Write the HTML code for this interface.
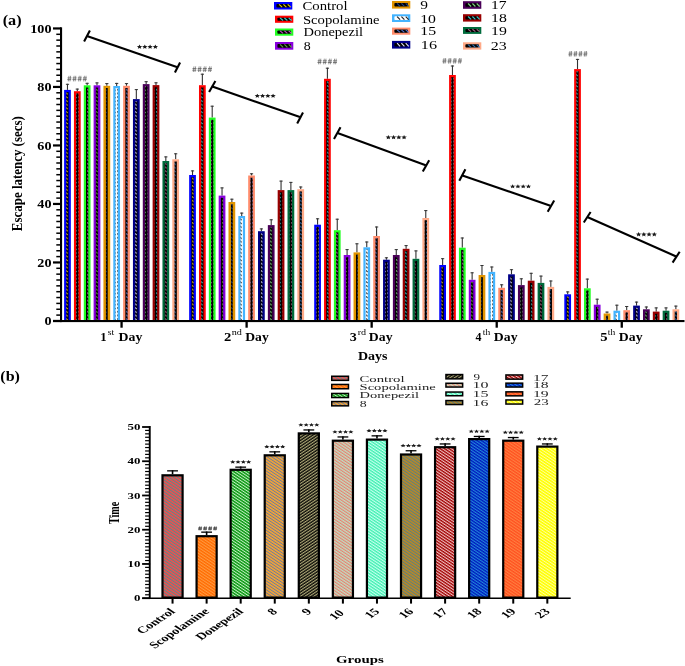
<!DOCTYPE html>
<html><head><meta charset="utf-8"><style>
html,body{margin:0;padding:0;background:#fff;}
svg{display:block;will-change:transform;}
</style></head><body>
<svg width="685" height="666" viewBox="0 0 685 666" font-family='"Liberation Serif", serif'>
<defs>
<pattern id="pl0" width="3.4" height="3.4" patternUnits="userSpaceOnUse" patternTransform="rotate(-40)"><rect width="3.4" height="3.4" fill="#000000"/><rect y="0.3" width="1.2" height="2.2" fill="#e8d000"/></pattern>
<pattern id="pa0" width="3" height="3.7" patternUnits="userSpaceOnUse"><rect width="3" height="3.7" fill="#000000"/><path d="M0.2,0.4 L1.6,2.0" stroke="#e8d000" stroke-width="1.1"/></pattern>
<pattern id="pl1" width="3.4" height="3.4" patternUnits="userSpaceOnUse" patternTransform="rotate(-40)"><rect width="3.4" height="3.4" fill="#000000"/><rect y="0.3" width="1.2" height="2.2" fill="#30c8c8"/></pattern>
<pattern id="pa1" width="3" height="3.7" patternUnits="userSpaceOnUse"><rect width="3" height="3.7" fill="#000000"/><path d="M0.2,0.4 L1.6,2.0" stroke="#30c8c8" stroke-width="1.1"/></pattern>
<pattern id="pl2" width="3.4" height="3.4" patternUnits="userSpaceOnUse" patternTransform="rotate(-40)"><rect width="3.4" height="3.4" fill="#000000"/><rect y="0.3" width="1.2" height="2.2" fill="#c050c0"/></pattern>
<pattern id="pa2" width="3" height="3.7" patternUnits="userSpaceOnUse"><rect width="3" height="3.7" fill="#000000"/><path d="M0.2,0.4 L1.6,2.0" stroke="#c050c0" stroke-width="1.1"/></pattern>
<pattern id="pl3" width="3.4" height="3.4" patternUnits="userSpaceOnUse" patternTransform="rotate(-40)"><rect width="3.4" height="3.4" fill="#000000"/><rect y="0.3" width="1.2" height="2.2" fill="#60a040"/></pattern>
<pattern id="pa3" width="3" height="3.7" patternUnits="userSpaceOnUse"><rect width="3" height="3.7" fill="#000000"/><path d="M0.2,0.4 L1.6,2.0" stroke="#60a040" stroke-width="1.1"/></pattern>
<pattern id="pl4" width="3.4" height="3.4" patternUnits="userSpaceOnUse" patternTransform="rotate(-40)"><rect width="3.4" height="3.4" fill="#000000"/><rect y="0.3" width="1.2" height="2.2" fill="#204080"/></pattern>
<pattern id="pa4" width="3" height="3.7" patternUnits="userSpaceOnUse"><rect width="3" height="3.7" fill="#000000"/><path d="M0.2,0.4 L1.6,2.0" stroke="#204080" stroke-width="1.1"/></pattern>
<pattern id="pl5" width="3.4" height="3.4" patternUnits="userSpaceOnUse" patternTransform="rotate(-40)"><rect width="3.4" height="3.4" fill="#ffffff"/><rect y="0.3" width="1.2" height="2.2" fill="#202020"/></pattern>
<pattern id="pa5" width="3" height="3.7" patternUnits="userSpaceOnUse"><rect width="3" height="3.7" fill="#ffffff"/><path d="M0.2,0.4 L1.6,2.0" stroke="#202020" stroke-width="1.1"/></pattern>
<pattern id="pl6" width="3.4" height="3.4" patternUnits="userSpaceOnUse" patternTransform="rotate(-40)"><rect width="3.4" height="3.4" fill="#000000"/><rect y="0.3" width="1.2" height="2.2" fill="#5070d0"/></pattern>
<pattern id="pa6" width="3" height="3.7" patternUnits="userSpaceOnUse"><rect width="3" height="3.7" fill="#000000"/><path d="M0.2,0.4 L1.6,2.0" stroke="#5070d0" stroke-width="1.1"/></pattern>
<pattern id="pl7" width="3.4" height="3.4" patternUnits="userSpaceOnUse" patternTransform="rotate(-40)"><rect width="3.4" height="3.4" fill="#000000"/><rect y="0.3" width="1.2" height="2.2" fill="#e0e0ff"/></pattern>
<pattern id="pa7" width="3" height="3.7" patternUnits="userSpaceOnUse"><rect width="3" height="3.7" fill="#000000"/><path d="M0.2,0.4 L1.6,2.0" stroke="#e0e0ff" stroke-width="1.1"/></pattern>
<pattern id="pl8" width="3.4" height="3.4" patternUnits="userSpaceOnUse" patternTransform="rotate(-40)"><rect width="3.4" height="3.4" fill="#000000"/><rect y="0.3" width="1.2" height="2.2" fill="#80d080"/></pattern>
<pattern id="pa8" width="3" height="3.7" patternUnits="userSpaceOnUse"><rect width="3" height="3.7" fill="#000000"/><path d="M0.2,0.4 L1.6,2.0" stroke="#80d080" stroke-width="1.1"/></pattern>
<pattern id="pl9" width="3.4" height="3.4" patternUnits="userSpaceOnUse" patternTransform="rotate(-40)"><rect width="3.4" height="3.4" fill="#000000"/><rect y="0.3" width="1.2" height="2.2" fill="#40c0c0"/></pattern>
<pattern id="pa9" width="3" height="3.7" patternUnits="userSpaceOnUse"><rect width="3" height="3.7" fill="#000000"/><path d="M0.2,0.4 L1.6,2.0" stroke="#40c0c0" stroke-width="1.1"/></pattern>
<pattern id="pl10" width="3.4" height="3.4" patternUnits="userSpaceOnUse" patternTransform="rotate(-40)"><rect width="3.4" height="3.4" fill="#000000"/><rect y="0.3" width="1.2" height="2.2" fill="#a06080"/></pattern>
<pattern id="pa10" width="3" height="3.7" patternUnits="userSpaceOnUse"><rect width="3" height="3.7" fill="#000000"/><path d="M0.2,0.4 L1.6,2.0" stroke="#a06080" stroke-width="1.1"/></pattern>
<pattern id="pl11" width="3.4" height="3.4" patternUnits="userSpaceOnUse" patternTransform="rotate(-40)"><rect width="3.4" height="3.4" fill="#000000"/><rect y="0.3" width="1.2" height="2.2" fill="#3070b0"/></pattern>
<pattern id="pa11" width="3" height="3.7" patternUnits="userSpaceOnUse"><rect width="3" height="3.7" fill="#000000"/><path d="M0.2,0.4 L1.6,2.0" stroke="#3070b0" stroke-width="1.1"/></pattern>
<pattern id="pb0" width="2.1" height="2.1" patternUnits="userSpaceOnUse" patternTransform="scale(1.5,1) rotate(-45)"><rect width="2.1" height="2.1" fill="#ff4848"/><rect width="0.95" height="2.1" fill="#5a8a8a"/></pattern>
<pattern id="pb1" width="2.1" height="2.1" patternUnits="userSpaceOnUse" patternTransform="scale(1.5,1) rotate(-45)"><rect width="2.1" height="2.1" fill="#ff6a00"/><rect width="0.95" height="2.1" fill="#ff9a40"/></pattern>
<pattern id="pb2" width="2.1" height="2.1" patternUnits="userSpaceOnUse" patternTransform="scale(1.5,1) rotate(-45)"><rect width="2.1" height="2.1" fill="#0c9a14"/><rect width="0.8" height="2.1" fill="#c8f0c8"/></pattern>
<pattern id="pb3" width="2.1" height="2.1" patternUnits="userSpaceOnUse" patternTransform="scale(1.5,1) rotate(-45)"><rect width="2.1" height="2.1" fill="#f2a436"/><rect width="0.75" height="2.1" fill="#6a7aa0"/></pattern>
<pattern id="pb4" width="2.1" height="2.1" patternUnits="userSpaceOnUse" patternTransform="scale(1.5,1) rotate(45)"><rect width="2.1" height="2.1" fill="#0a0a06"/><rect width="0.95" height="2.1" fill="#b0aa78"/></pattern>
<pattern id="pb5" width="2.1" height="2.1" patternUnits="userSpaceOnUse" patternTransform="scale(1.5,1) rotate(-45)"><rect width="2.1" height="2.1" fill="#c0dcc0"/><rect width="0.95" height="2.1" fill="#e88070"/></pattern>
<pattern id="pb6" width="2.1" height="2.1" patternUnits="userSpaceOnUse" patternTransform="scale(1.5,1) rotate(-45)"><rect width="2.1" height="2.1" fill="#40f0b0"/><rect width="0.95" height="2.1" fill="#c8fff0"/></pattern>
<pattern id="pb7" width="2.1" height="2.1" patternUnits="userSpaceOnUse" patternTransform="scale(1.5,1) rotate(-45)"><rect width="2.1" height="2.1" fill="#c08820"/><rect width="0.9" height="2.1" fill="#5a8080"/></pattern>
<pattern id="pb8" width="2.1" height="2.1" patternUnits="userSpaceOnUse" patternTransform="scale(1.5,1) rotate(-45)"><rect width="2.1" height="2.1" fill="#a00000"/><rect width="0.95" height="2.1" fill="#f0c0c0"/></pattern>
<pattern id="pb9" width="2.1" height="2.1" patternUnits="userSpaceOnUse" patternTransform="scale(1.5,1) rotate(-45)"><rect width="2.1" height="2.1" fill="#0018c0"/><rect width="0.95" height="2.1" fill="#2088d8"/></pattern>
<pattern id="pb10" width="2.1" height="2.1" patternUnits="userSpaceOnUse" patternTransform="scale(1.5,1) rotate(-45)"><rect width="2.1" height="2.1" fill="#ff5020"/><rect width="0.95" height="2.1" fill="#ff8040"/></pattern>
<pattern id="pb11" width="2.1" height="2.1" patternUnits="userSpaceOnUse" patternTransform="scale(1.5,1) rotate(-45)"><rect width="2.1" height="2.1" fill="#ffff00"/><rect width="0.8" height="2.1" fill="#ffffa0"/></pattern>
</defs>
<rect width="685" height="666" fill="#fff"/>
<rect x="66.92" y="83.80" width="1.1" height="6.10" fill="#333"/>
<rect x="65.88" y="83.80" width="3.2" height="1" fill="#333"/>
<rect x="64.10" y="89.90" width="6.75" height="230.40" fill="#0000ff"/>
<rect x="66.32" y="92.10" width="2.3" height="228.20" fill="url(#pa0)"/>
<rect x="76.76" y="88.60" width="1.1" height="2.60" fill="#333"/>
<rect x="75.71" y="88.60" width="3.2" height="1" fill="#333"/>
<rect x="73.94" y="91.20" width="6.75" height="229.10" fill="#ff0000"/>
<rect x="76.16" y="93.40" width="2.3" height="226.90" fill="url(#pa1)"/>
<rect x="86.60" y="82.80" width="1.1" height="2.50" fill="#333"/>
<rect x="85.55" y="82.80" width="3.2" height="1" fill="#333"/>
<rect x="83.77" y="85.30" width="6.75" height="235.00" fill="#22ff22"/>
<rect x="86.00" y="87.50" width="2.3" height="232.80" fill="url(#pa2)"/>
<rect x="96.43" y="82.40" width="1.1" height="2.90" fill="#333"/>
<rect x="95.38" y="82.40" width="3.2" height="1" fill="#333"/>
<rect x="93.61" y="85.30" width="6.75" height="235.00" fill="#8800dd"/>
<rect x="95.83" y="87.50" width="2.3" height="232.80" fill="url(#pa3)"/>
<rect x="106.27" y="83.10" width="1.1" height="2.70" fill="#333"/>
<rect x="105.22" y="83.10" width="3.2" height="1" fill="#333"/>
<rect x="103.44" y="85.80" width="6.75" height="234.50" fill="#e09400"/>
<rect x="105.92" y="88.00" width="1.8" height="232.30" fill="url(#pa4)"/>
<rect x="116.11" y="82.90" width="1.1" height="3.10" fill="#333"/>
<rect x="115.06" y="82.90" width="3.2" height="1" fill="#333"/>
<rect x="113.28" y="86.00" width="6.75" height="234.30" fill="#44b4ff"/>
<rect x="115.50" y="88.20" width="2.3" height="232.10" fill="url(#pa5)"/>
<rect x="125.94" y="83.10" width="1.1" height="2.70" fill="#333"/>
<rect x="124.89" y="83.10" width="3.2" height="1" fill="#333"/>
<rect x="123.12" y="85.80" width="6.75" height="234.50" fill="#ff8c6c"/>
<rect x="125.34" y="88.00" width="2.3" height="232.30" fill="url(#pa6)"/>
<rect x="135.78" y="89.10" width="1.1" height="10.00" fill="#333"/>
<rect x="134.73" y="89.10" width="3.2" height="1" fill="#333"/>
<rect x="132.95" y="99.10" width="6.75" height="221.20" fill="#000088"/>
<rect x="135.18" y="101.30" width="2.3" height="219.00" fill="url(#pa7)"/>
<rect x="145.61" y="81.20" width="1.1" height="2.90" fill="#333"/>
<rect x="144.56" y="81.20" width="3.2" height="1" fill="#333"/>
<rect x="142.79" y="84.10" width="6.75" height="236.20" fill="#4a0058"/>
<rect x="145.01" y="86.30" width="2.3" height="234.00" fill="url(#pa8)"/>
<rect x="155.45" y="82.30" width="1.1" height="2.80" fill="#333"/>
<rect x="154.40" y="82.30" width="3.2" height="1" fill="#333"/>
<rect x="152.62" y="85.10" width="6.75" height="235.20" fill="#990000"/>
<rect x="154.85" y="87.30" width="2.3" height="233.00" fill="url(#pa9)"/>
<rect x="165.28" y="156.40" width="1.1" height="4.60" fill="#333"/>
<rect x="164.23" y="156.40" width="3.2" height="1" fill="#333"/>
<rect x="162.46" y="161.00" width="6.75" height="159.30" fill="#006b3c"/>
<rect x="164.68" y="163.20" width="2.3" height="157.10" fill="url(#pa10)"/>
<rect x="175.12" y="153.30" width="1.1" height="6.00" fill="#333"/>
<rect x="174.07" y="153.30" width="3.2" height="1" fill="#333"/>
<rect x="172.30" y="159.30" width="6.75" height="161.00" fill="#ffaa88"/>
<rect x="174.52" y="161.50" width="2.3" height="158.80" fill="url(#pa11)"/>
<rect x="191.97" y="170.40" width="1.1" height="4.60" fill="#333"/>
<rect x="190.93" y="170.40" width="3.2" height="1" fill="#333"/>
<rect x="189.15" y="175.00" width="6.75" height="145.30" fill="#0000ff"/>
<rect x="191.38" y="177.20" width="2.3" height="143.10" fill="url(#pa0)"/>
<rect x="201.81" y="73.70" width="1.1" height="11.50" fill="#333"/>
<rect x="200.76" y="73.70" width="3.2" height="1" fill="#333"/>
<rect x="198.99" y="85.20" width="6.75" height="235.10" fill="#ff0000"/>
<rect x="201.21" y="87.40" width="2.3" height="232.90" fill="url(#pa1)"/>
<rect x="211.65" y="105.70" width="1.1" height="11.90" fill="#333"/>
<rect x="210.60" y="105.70" width="3.2" height="1" fill="#333"/>
<rect x="208.82" y="117.60" width="6.75" height="202.70" fill="#22ff22"/>
<rect x="211.05" y="119.80" width="2.3" height="200.50" fill="url(#pa2)"/>
<rect x="221.48" y="187.40" width="1.1" height="8.20" fill="#333"/>
<rect x="220.43" y="187.40" width="3.2" height="1" fill="#333"/>
<rect x="218.66" y="195.60" width="6.75" height="124.70" fill="#8800dd"/>
<rect x="220.88" y="197.80" width="2.3" height="122.50" fill="url(#pa3)"/>
<rect x="231.32" y="198.70" width="1.1" height="3.30" fill="#333"/>
<rect x="230.27" y="198.70" width="3.2" height="1" fill="#333"/>
<rect x="228.49" y="202.00" width="6.75" height="118.30" fill="#e09400"/>
<rect x="230.97" y="204.20" width="1.8" height="116.10" fill="url(#pa4)"/>
<rect x="241.16" y="212.60" width="1.1" height="3.40" fill="#333"/>
<rect x="240.11" y="212.60" width="3.2" height="1" fill="#333"/>
<rect x="238.33" y="216.00" width="6.75" height="104.30" fill="#44b4ff"/>
<rect x="240.56" y="218.20" width="2.3" height="102.10" fill="url(#pa5)"/>
<rect x="250.99" y="173.30" width="1.1" height="2.20" fill="#333"/>
<rect x="249.94" y="173.30" width="3.2" height="1" fill="#333"/>
<rect x="248.17" y="175.50" width="6.75" height="144.80" fill="#ff8c6c"/>
<rect x="250.39" y="177.70" width="2.3" height="142.60" fill="url(#pa6)"/>
<rect x="260.83" y="228.40" width="1.1" height="2.80" fill="#333"/>
<rect x="259.78" y="228.40" width="3.2" height="1" fill="#333"/>
<rect x="258.00" y="231.20" width="6.75" height="89.10" fill="#000088"/>
<rect x="260.23" y="233.40" width="2.3" height="86.90" fill="url(#pa7)"/>
<rect x="270.66" y="219.30" width="1.1" height="5.80" fill="#333"/>
<rect x="269.61" y="219.30" width="3.2" height="1" fill="#333"/>
<rect x="267.84" y="225.10" width="6.75" height="95.20" fill="#4a0058"/>
<rect x="270.06" y="227.30" width="2.3" height="93.00" fill="url(#pa8)"/>
<rect x="280.50" y="180.60" width="1.1" height="9.50" fill="#333"/>
<rect x="279.45" y="180.60" width="3.2" height="1" fill="#333"/>
<rect x="277.67" y="190.10" width="6.75" height="130.20" fill="#990000"/>
<rect x="279.90" y="192.30" width="2.3" height="128.00" fill="url(#pa9)"/>
<rect x="290.33" y="181.90" width="1.1" height="8.20" fill="#333"/>
<rect x="289.28" y="181.90" width="3.2" height="1" fill="#333"/>
<rect x="287.51" y="190.10" width="6.75" height="130.20" fill="#006b3c"/>
<rect x="289.74" y="192.30" width="2.3" height="128.00" fill="url(#pa10)"/>
<rect x="300.17" y="186.50" width="1.1" height="2.70" fill="#333"/>
<rect x="299.12" y="186.50" width="3.2" height="1" fill="#333"/>
<rect x="297.35" y="189.20" width="6.75" height="131.10" fill="#ffaa88"/>
<rect x="299.57" y="191.40" width="2.3" height="128.90" fill="url(#pa11)"/>
<rect x="317.02" y="218.30" width="1.1" height="6.40" fill="#333"/>
<rect x="315.97" y="218.30" width="3.2" height="1" fill="#333"/>
<rect x="314.20" y="224.70" width="6.75" height="95.60" fill="#0000ff"/>
<rect x="316.43" y="226.90" width="2.3" height="93.40" fill="url(#pa0)"/>
<rect x="326.86" y="67.70" width="1.1" height="11.10" fill="#333"/>
<rect x="325.81" y="67.70" width="3.2" height="1" fill="#333"/>
<rect x="324.04" y="78.80" width="6.75" height="241.50" fill="#ff0000"/>
<rect x="326.26" y="81.00" width="2.3" height="239.30" fill="url(#pa1)"/>
<rect x="336.70" y="218.70" width="1.1" height="11.50" fill="#333"/>
<rect x="335.65" y="218.70" width="3.2" height="1" fill="#333"/>
<rect x="333.87" y="230.20" width="6.75" height="90.10" fill="#22ff22"/>
<rect x="336.10" y="232.40" width="2.3" height="87.90" fill="url(#pa2)"/>
<rect x="346.53" y="249.10" width="1.1" height="5.90" fill="#333"/>
<rect x="345.48" y="249.10" width="3.2" height="1" fill="#333"/>
<rect x="343.71" y="255.00" width="6.75" height="65.30" fill="#8800dd"/>
<rect x="345.93" y="257.20" width="2.3" height="63.10" fill="url(#pa3)"/>
<rect x="356.37" y="243.30" width="1.1" height="9.10" fill="#333"/>
<rect x="355.32" y="243.30" width="3.2" height="1" fill="#333"/>
<rect x="353.54" y="252.40" width="6.75" height="67.90" fill="#e09400"/>
<rect x="356.02" y="254.60" width="1.8" height="65.70" fill="url(#pa4)"/>
<rect x="366.20" y="241.50" width="1.1" height="5.80" fill="#333"/>
<rect x="365.15" y="241.50" width="3.2" height="1" fill="#333"/>
<rect x="363.38" y="247.30" width="6.75" height="73.00" fill="#44b4ff"/>
<rect x="365.61" y="249.50" width="2.3" height="70.80" fill="url(#pa5)"/>
<rect x="376.04" y="226.50" width="1.1" height="9.50" fill="#333"/>
<rect x="374.99" y="226.50" width="3.2" height="1" fill="#333"/>
<rect x="373.22" y="236.00" width="6.75" height="84.30" fill="#ff8c6c"/>
<rect x="375.44" y="238.20" width="2.3" height="82.10" fill="url(#pa6)"/>
<rect x="385.88" y="257.30" width="1.1" height="2.40" fill="#333"/>
<rect x="384.83" y="257.30" width="3.2" height="1" fill="#333"/>
<rect x="383.05" y="259.70" width="6.75" height="60.60" fill="#000088"/>
<rect x="385.28" y="261.90" width="2.3" height="58.40" fill="url(#pa7)"/>
<rect x="395.71" y="249.10" width="1.1" height="5.90" fill="#333"/>
<rect x="394.66" y="249.10" width="3.2" height="1" fill="#333"/>
<rect x="392.89" y="255.00" width="6.75" height="65.30" fill="#4a0058"/>
<rect x="395.11" y="257.20" width="2.3" height="63.10" fill="url(#pa8)"/>
<rect x="405.55" y="245.10" width="1.1" height="3.70" fill="#333"/>
<rect x="404.50" y="245.10" width="3.2" height="1" fill="#333"/>
<rect x="402.72" y="248.80" width="6.75" height="71.50" fill="#990000"/>
<rect x="404.95" y="251.00" width="2.3" height="69.30" fill="url(#pa9)"/>
<rect x="415.38" y="250.40" width="1.1" height="8.40" fill="#333"/>
<rect x="414.33" y="250.40" width="3.2" height="1" fill="#333"/>
<rect x="412.56" y="258.80" width="6.75" height="61.50" fill="#006b3c"/>
<rect x="414.79" y="261.00" width="2.3" height="59.30" fill="url(#pa10)"/>
<rect x="425.22" y="210.10" width="1.1" height="7.90" fill="#333"/>
<rect x="424.17" y="210.10" width="3.2" height="1" fill="#333"/>
<rect x="422.40" y="218.00" width="6.75" height="102.30" fill="#ffaa88"/>
<rect x="424.62" y="220.20" width="2.3" height="100.10" fill="url(#pa11)"/>
<rect x="442.07" y="258.20" width="1.1" height="6.80" fill="#333"/>
<rect x="441.02" y="258.20" width="3.2" height="1" fill="#333"/>
<rect x="439.25" y="265.00" width="6.75" height="55.30" fill="#0000ff"/>
<rect x="441.48" y="267.20" width="2.3" height="53.10" fill="url(#pa0)"/>
<rect x="451.91" y="65.50" width="1.1" height="9.50" fill="#333"/>
<rect x="450.86" y="65.50" width="3.2" height="1" fill="#333"/>
<rect x="449.09" y="75.00" width="6.75" height="245.30" fill="#ff0000"/>
<rect x="451.31" y="77.20" width="2.3" height="243.10" fill="url(#pa1)"/>
<rect x="461.75" y="237.50" width="1.1" height="10.20" fill="#333"/>
<rect x="460.70" y="237.50" width="3.2" height="1" fill="#333"/>
<rect x="458.92" y="247.70" width="6.75" height="72.60" fill="#22ff22"/>
<rect x="461.15" y="249.90" width="2.3" height="70.40" fill="url(#pa2)"/>
<rect x="471.58" y="272.30" width="1.1" height="7.50" fill="#333"/>
<rect x="470.53" y="272.30" width="3.2" height="1" fill="#333"/>
<rect x="468.76" y="279.80" width="6.75" height="40.50" fill="#8800dd"/>
<rect x="470.98" y="282.00" width="2.3" height="38.30" fill="url(#pa3)"/>
<rect x="481.42" y="265.00" width="1.1" height="10.00" fill="#333"/>
<rect x="480.37" y="265.00" width="3.2" height="1" fill="#333"/>
<rect x="478.59" y="275.00" width="6.75" height="45.30" fill="#e09400"/>
<rect x="481.07" y="277.20" width="1.8" height="43.10" fill="url(#pa4)"/>
<rect x="491.25" y="266.50" width="1.1" height="5.40" fill="#333"/>
<rect x="490.20" y="266.50" width="3.2" height="1" fill="#333"/>
<rect x="488.43" y="271.90" width="6.75" height="48.40" fill="#44b4ff"/>
<rect x="490.66" y="274.10" width="2.3" height="46.20" fill="url(#pa5)"/>
<rect x="501.09" y="284.30" width="1.1" height="3.50" fill="#333"/>
<rect x="500.04" y="284.30" width="3.2" height="1" fill="#333"/>
<rect x="498.27" y="287.80" width="6.75" height="32.50" fill="#ff8c6c"/>
<rect x="500.49" y="290.00" width="2.3" height="30.30" fill="url(#pa6)"/>
<rect x="510.93" y="269.20" width="1.1" height="5.10" fill="#333"/>
<rect x="509.88" y="269.20" width="3.2" height="1" fill="#333"/>
<rect x="508.10" y="274.30" width="6.75" height="46.00" fill="#000088"/>
<rect x="510.33" y="276.50" width="2.3" height="43.80" fill="url(#pa7)"/>
<rect x="520.76" y="278.30" width="1.1" height="6.80" fill="#333"/>
<rect x="519.71" y="278.30" width="3.2" height="1" fill="#333"/>
<rect x="517.94" y="285.10" width="6.75" height="35.20" fill="#4a0058"/>
<rect x="520.16" y="287.30" width="2.3" height="33.00" fill="url(#pa8)"/>
<rect x="530.60" y="272.80" width="1.1" height="7.90" fill="#333"/>
<rect x="529.55" y="272.80" width="3.2" height="1" fill="#333"/>
<rect x="527.77" y="280.70" width="6.75" height="39.60" fill="#990000"/>
<rect x="530.00" y="282.90" width="2.3" height="37.40" fill="url(#pa9)"/>
<rect x="540.44" y="275.60" width="1.1" height="7.30" fill="#333"/>
<rect x="539.38" y="275.60" width="3.2" height="1" fill="#333"/>
<rect x="537.61" y="282.90" width="6.75" height="37.40" fill="#006b3c"/>
<rect x="539.84" y="285.10" width="2.3" height="35.20" fill="url(#pa10)"/>
<rect x="550.27" y="280.50" width="1.1" height="6.40" fill="#333"/>
<rect x="549.22" y="280.50" width="3.2" height="1" fill="#333"/>
<rect x="547.45" y="286.90" width="6.75" height="33.40" fill="#ffaa88"/>
<rect x="549.67" y="289.10" width="2.3" height="31.20" fill="url(#pa11)"/>
<rect x="567.12" y="291.40" width="1.1" height="2.90" fill="#333"/>
<rect x="566.07" y="291.40" width="3.2" height="1" fill="#333"/>
<rect x="564.30" y="294.30" width="6.75" height="26.00" fill="#0000ff"/>
<rect x="566.52" y="296.50" width="2.3" height="23.80" fill="url(#pa0)"/>
<rect x="576.96" y="58.90" width="1.1" height="10.20" fill="#333"/>
<rect x="575.91" y="58.90" width="3.2" height="1" fill="#333"/>
<rect x="574.14" y="69.10" width="6.75" height="251.20" fill="#ff0000"/>
<rect x="576.36" y="71.30" width="2.3" height="249.00" fill="url(#pa1)"/>
<rect x="586.80" y="278.60" width="1.1" height="9.70" fill="#333"/>
<rect x="585.75" y="278.60" width="3.2" height="1" fill="#333"/>
<rect x="583.97" y="288.30" width="6.75" height="32.00" fill="#22ff22"/>
<rect x="586.20" y="290.50" width="2.3" height="29.80" fill="url(#pa2)"/>
<rect x="596.63" y="298.70" width="1.1" height="6.00" fill="#333"/>
<rect x="595.58" y="298.70" width="3.2" height="1" fill="#333"/>
<rect x="593.81" y="304.70" width="6.75" height="15.60" fill="#8800dd"/>
<rect x="596.03" y="306.90" width="2.3" height="13.40" fill="url(#pa3)"/>
<rect x="606.47" y="311.60" width="1.1" height="1.90" fill="#333"/>
<rect x="605.42" y="311.60" width="3.2" height="1" fill="#333"/>
<rect x="603.64" y="313.50" width="6.75" height="6.80" fill="#e09400"/>
<rect x="606.12" y="315.70" width="1.8" height="4.60" fill="url(#pa4)"/>
<rect x="616.30" y="304.70" width="1.1" height="6.00" fill="#333"/>
<rect x="615.25" y="304.70" width="3.2" height="1" fill="#333"/>
<rect x="613.48" y="310.70" width="6.75" height="9.60" fill="#44b4ff"/>
<rect x="615.70" y="312.90" width="2.3" height="7.40" fill="url(#pa5)"/>
<rect x="626.14" y="306.00" width="1.1" height="4.20" fill="#333"/>
<rect x="625.09" y="306.00" width="3.2" height="1" fill="#333"/>
<rect x="623.32" y="310.20" width="6.75" height="10.10" fill="#ff8c6c"/>
<rect x="625.54" y="312.40" width="2.3" height="7.90" fill="url(#pa6)"/>
<rect x="635.98" y="301.60" width="1.1" height="4.00" fill="#333"/>
<rect x="634.93" y="301.60" width="3.2" height="1" fill="#333"/>
<rect x="633.15" y="305.60" width="6.75" height="14.70" fill="#000088"/>
<rect x="635.38" y="307.80" width="2.3" height="12.50" fill="url(#pa7)"/>
<rect x="645.81" y="306.50" width="1.1" height="2.80" fill="#333"/>
<rect x="644.76" y="306.50" width="3.2" height="1" fill="#333"/>
<rect x="642.99" y="309.30" width="6.75" height="11.00" fill="#4a0058"/>
<rect x="645.21" y="311.50" width="2.3" height="8.80" fill="url(#pa8)"/>
<rect x="655.65" y="307.40" width="1.1" height="4.20" fill="#333"/>
<rect x="654.60" y="307.40" width="3.2" height="1" fill="#333"/>
<rect x="652.82" y="311.60" width="6.75" height="8.70" fill="#990000"/>
<rect x="655.05" y="313.80" width="2.3" height="6.50" fill="url(#pa9)"/>
<rect x="665.49" y="307.40" width="1.1" height="3.30" fill="#333"/>
<rect x="664.43" y="307.40" width="3.2" height="1" fill="#333"/>
<rect x="662.66" y="310.70" width="6.75" height="9.60" fill="#006b3c"/>
<rect x="664.88" y="312.90" width="2.3" height="7.40" fill="url(#pa10)"/>
<rect x="675.32" y="305.60" width="1.1" height="3.70" fill="#333"/>
<rect x="674.27" y="305.60" width="3.2" height="1" fill="#333"/>
<rect x="672.50" y="309.30" width="6.75" height="11.00" fill="#ffaa88"/>
<rect x="674.72" y="311.50" width="2.3" height="8.80" fill="url(#pa11)"/>
<rect x="60" y="27.3" width="2.1" height="294.8" fill="#000"/>
<rect x="53" y="320" width="631.5" height="2.1" fill="#000"/>
<rect x="53" y="319.85" width="8" height="2.2" fill="#000"/>
<rect x="56.3" y="314.35" width="4" height="1.5" fill="#000"/>
<rect x="56.3" y="308.50" width="4" height="1.5" fill="#000"/>
<rect x="56.3" y="302.65" width="4" height="1.5" fill="#000"/>
<rect x="56.3" y="296.80" width="4" height="1.5" fill="#000"/>
<rect x="56.3" y="290.95" width="4" height="1.5" fill="#000"/>
<rect x="56.3" y="285.10" width="4" height="1.5" fill="#000"/>
<rect x="56.3" y="279.25" width="4" height="1.5" fill="#000"/>
<rect x="56.3" y="273.40" width="4" height="1.5" fill="#000"/>
<rect x="56.3" y="267.55" width="4" height="1.5" fill="#000"/>
<rect x="53" y="261.35" width="8" height="2.2" fill="#000"/>
<rect x="56.3" y="255.85" width="4" height="1.5" fill="#000"/>
<rect x="56.3" y="250.00" width="4" height="1.5" fill="#000"/>
<rect x="56.3" y="244.15" width="4" height="1.5" fill="#000"/>
<rect x="56.3" y="238.30" width="4" height="1.5" fill="#000"/>
<rect x="56.3" y="232.45" width="4" height="1.5" fill="#000"/>
<rect x="56.3" y="226.60" width="4" height="1.5" fill="#000"/>
<rect x="56.3" y="220.75" width="4" height="1.5" fill="#000"/>
<rect x="56.3" y="214.90" width="4" height="1.5" fill="#000"/>
<rect x="56.3" y="209.05" width="4" height="1.5" fill="#000"/>
<rect x="53" y="202.85" width="8" height="2.2" fill="#000"/>
<rect x="56.3" y="197.35" width="4" height="1.5" fill="#000"/>
<rect x="56.3" y="191.50" width="4" height="1.5" fill="#000"/>
<rect x="56.3" y="185.65" width="4" height="1.5" fill="#000"/>
<rect x="56.3" y="179.80" width="4" height="1.5" fill="#000"/>
<rect x="56.3" y="173.95" width="4" height="1.5" fill="#000"/>
<rect x="56.3" y="168.10" width="4" height="1.5" fill="#000"/>
<rect x="56.3" y="162.25" width="4" height="1.5" fill="#000"/>
<rect x="56.3" y="156.40" width="4" height="1.5" fill="#000"/>
<rect x="56.3" y="150.55" width="4" height="1.5" fill="#000"/>
<rect x="53" y="144.35" width="8" height="2.2" fill="#000"/>
<rect x="56.3" y="138.85" width="4" height="1.5" fill="#000"/>
<rect x="56.3" y="133.00" width="4" height="1.5" fill="#000"/>
<rect x="56.3" y="127.15" width="4" height="1.5" fill="#000"/>
<rect x="56.3" y="121.30" width="4" height="1.5" fill="#000"/>
<rect x="56.3" y="115.45" width="4" height="1.5" fill="#000"/>
<rect x="56.3" y="109.60" width="4" height="1.5" fill="#000"/>
<rect x="56.3" y="103.75" width="4" height="1.5" fill="#000"/>
<rect x="56.3" y="97.90" width="4" height="1.5" fill="#000"/>
<rect x="56.3" y="92.05" width="4" height="1.5" fill="#000"/>
<rect x="53" y="85.85" width="8" height="2.2" fill="#000"/>
<rect x="56.3" y="80.35" width="4" height="1.5" fill="#000"/>
<rect x="56.3" y="74.50" width="4" height="1.5" fill="#000"/>
<rect x="56.3" y="68.65" width="4" height="1.5" fill="#000"/>
<rect x="56.3" y="62.80" width="4" height="1.5" fill="#000"/>
<rect x="56.3" y="56.95" width="4" height="1.5" fill="#000"/>
<rect x="56.3" y="51.10" width="4" height="1.5" fill="#000"/>
<rect x="56.3" y="45.25" width="4" height="1.5" fill="#000"/>
<rect x="56.3" y="39.40" width="4" height="1.5" fill="#000"/>
<rect x="56.3" y="33.55" width="4" height="1.5" fill="#000"/>
<rect x="53" y="27.35" width="8" height="2.2" fill="#000"/>
<text x="44.45" y="325.35" font-size="12.0" font-weight="bold" fill="#000" textLength="7.08" lengthAdjust="spacingAndGlyphs">0</text>
<text x="37.37" y="266.85" font-size="12.0" font-weight="bold" fill="#000" textLength="14.16" lengthAdjust="spacingAndGlyphs">20</text>
<text x="37.37" y="208.35" font-size="12.0" font-weight="bold" fill="#000" textLength="14.16" lengthAdjust="spacingAndGlyphs">40</text>
<text x="37.37" y="149.85" font-size="12.0" font-weight="bold" fill="#000" textLength="14.16" lengthAdjust="spacingAndGlyphs">60</text>
<text x="37.37" y="91.35" font-size="12.0" font-weight="bold" fill="#000" textLength="14.16" lengthAdjust="spacingAndGlyphs">80</text>
<text x="30.29" y="32.85" font-size="12.0" font-weight="bold" fill="#000" textLength="21.24" lengthAdjust="spacingAndGlyphs">100</text>
<rect x="120.42" y="321" width="2.3" height="6.7" fill="#000"/>
<rect x="245.47" y="321" width="2.3" height="6.7" fill="#000"/>
<rect x="370.52" y="321" width="2.3" height="6.7" fill="#000"/>
<rect x="495.57" y="321" width="2.3" height="6.7" fill="#000"/>
<rect x="620.62" y="321" width="2.3" height="6.7" fill="#000"/>
<text x="100.28" y="341.00" font-size="12.4" font-weight="bold" fill="#000" textLength="6.39" lengthAdjust="spacingAndGlyphs">1</text>
<text x="107.71" y="334.50" font-size="8.6" fill="#000" textLength="6.54" lengthAdjust="spacingAndGlyphs">st</text>
<text x="118.56" y="341.00" font-size="12.4" font-weight="bold" fill="#000" textLength="23.78" lengthAdjust="spacingAndGlyphs">Day</text>
<text x="224.08" y="341.00" font-size="12.4" font-weight="bold" fill="#000" textLength="7.35" lengthAdjust="spacingAndGlyphs">2</text>
<text x="231.67" y="334.50" font-size="8.6" fill="#000" textLength="10.16" lengthAdjust="spacingAndGlyphs">nd</text>
<text x="245.26" y="341.00" font-size="12.4" font-weight="bold" fill="#000" textLength="23.47" lengthAdjust="spacingAndGlyphs">Day</text>
<text x="349.67" y="341.00" font-size="12.4" font-weight="bold" fill="#000" textLength="7.02" lengthAdjust="spacingAndGlyphs">3</text>
<text x="357.70" y="334.50" font-size="8.6" fill="#000" textLength="8.43" lengthAdjust="spacingAndGlyphs">rd</text>
<text x="368.86" y="341.00" font-size="12.4" font-weight="bold" fill="#000" textLength="23.67" lengthAdjust="spacingAndGlyphs">Day</text>
<text x="475.45" y="341.00" font-size="12.4" font-weight="bold" fill="#000" textLength="5.96" lengthAdjust="spacingAndGlyphs">4</text>
<text x="482.80" y="334.50" font-size="8.6" fill="#000" textLength="7.42" lengthAdjust="spacingAndGlyphs">th</text>
<text x="493.86" y="341.00" font-size="12.4" font-weight="bold" fill="#000" textLength="23.67" lengthAdjust="spacingAndGlyphs">Day</text>
<text x="600.21" y="341.00" font-size="12.4" font-weight="bold" fill="#000" textLength="7.34" lengthAdjust="spacingAndGlyphs">5</text>
<text x="607.80" y="334.50" font-size="8.6" fill="#000" textLength="7.42" lengthAdjust="spacingAndGlyphs">th</text>
<text x="618.86" y="341.00" font-size="12.4" font-weight="bold" fill="#000" textLength="23.67" lengthAdjust="spacingAndGlyphs">Day</text>
<text x="357.95" y="359.90" font-size="12.4" font-weight="bold" fill="#000" textLength="29.58" lengthAdjust="spacingAndGlyphs">Days</text>
<text transform="translate(21.70,231.13) scale(1.1,1) rotate(-90)" x="0" y="0" font-size="13" font-weight="bold" fill="#000" textLength="114.87" lengthAdjust="spacingAndGlyphs">Escape latency (secs)</text>
<text x="2.67" y="24.80" font-size="14.8" font-weight="bold" fill="#000" textLength="18.94" lengthAdjust="spacingAndGlyphs">(a)</text>
<rect x="274" y="2.00" width="18.3" height="7.50" fill="#0000ff"/>
<rect x="276.40" y="4.00" width="13.5" height="3.50" rx="0.8" fill="#000000"/>
<line x1="279.10" y1="4.30" x2="282.10" y2="7.20" stroke="#e8d000" stroke-width="1.1"/>
<line x1="283.40" y1="4.30" x2="286.40" y2="7.20" stroke="#e8d000" stroke-width="1.1"/>
<line x1="287.70" y1="4.30" x2="290.70" y2="7.20" stroke="#e8d000" stroke-width="1.1"/>
<text x="302.51" y="10.20" font-size="12.4" fill="#000" textLength="45.10" lengthAdjust="spacingAndGlyphs">Control</text>
<rect x="275" y="15.70" width="18.3" height="7.10" fill="#ff0000"/>
<rect x="277.40" y="17.70" width="13.5" height="3.10" rx="0.8" fill="#000000"/>
<line x1="280.10" y1="18.00" x2="283.10" y2="20.50" stroke="#30c8c8" stroke-width="1.1"/>
<line x1="284.40" y1="18.00" x2="287.40" y2="20.50" stroke="#30c8c8" stroke-width="1.1"/>
<line x1="288.70" y1="18.00" x2="291.70" y2="20.50" stroke="#30c8c8" stroke-width="1.1"/>
<text x="302.91" y="23.60" font-size="12.4" fill="#000" textLength="76.69" lengthAdjust="spacingAndGlyphs">Scopolamine</text>
<rect x="275" y="28.50" width="18.3" height="7.20" fill="#22ff22"/>
<rect x="277.40" y="30.50" width="13.5" height="3.20" rx="0.8" fill="#000000"/>
<line x1="280.10" y1="30.80" x2="283.10" y2="33.40" stroke="#c050c0" stroke-width="1.1"/>
<line x1="284.40" y1="30.80" x2="287.40" y2="33.40" stroke="#c050c0" stroke-width="1.1"/>
<line x1="288.70" y1="30.80" x2="291.70" y2="33.40" stroke="#c050c0" stroke-width="1.1"/>
<text x="303.47" y="35.80" font-size="12.4" fill="#000" textLength="59.52" lengthAdjust="spacingAndGlyphs">Donepezil</text>
<rect x="275" y="42.00" width="18.3" height="7.70" fill="#8800dd"/>
<rect x="277.40" y="44.00" width="13.5" height="3.70" rx="0.8" fill="#000000"/>
<line x1="280.10" y1="44.30" x2="283.10" y2="47.40" stroke="#60a040" stroke-width="1.1"/>
<line x1="284.40" y1="44.30" x2="287.40" y2="47.40" stroke="#60a040" stroke-width="1.1"/>
<line x1="288.70" y1="44.30" x2="291.70" y2="47.40" stroke="#60a040" stroke-width="1.1"/>
<text x="303.68" y="50.00" font-size="12.4" fill="#000" textLength="6.94" lengthAdjust="spacingAndGlyphs">8</text>
<rect x="392" y="1.00" width="18.3" height="7.60" fill="#e09400"/>
<rect x="394.40" y="3.00" width="13.5" height="3.60" rx="0.8" fill="#000000"/>
<line x1="397.10" y1="3.30" x2="400.10" y2="6.30" stroke="#204080" stroke-width="1.1"/>
<line x1="401.40" y1="3.30" x2="404.40" y2="6.30" stroke="#204080" stroke-width="1.1"/>
<line x1="405.70" y1="3.30" x2="408.70" y2="6.30" stroke="#204080" stroke-width="1.1"/>
<text x="420.30" y="9.40" font-size="12.4" fill="#000" textLength="7.72" lengthAdjust="spacingAndGlyphs">9</text>
<rect x="392" y="14.30" width="18.3" height="7.70" fill="#44b4ff"/>
<rect x="394.40" y="16.30" width="13.5" height="3.70" rx="0.8" fill="#ffffff"/>
<line x1="397.10" y1="16.60" x2="400.10" y2="19.70" stroke="#202020" stroke-width="1.1"/>
<line x1="401.40" y1="16.60" x2="404.40" y2="19.70" stroke="#202020" stroke-width="1.1"/>
<line x1="405.70" y1="16.60" x2="408.70" y2="19.70" stroke="#202020" stroke-width="1.1"/>
<text x="420.22" y="22.50" font-size="12.4" fill="#000" textLength="15.77" lengthAdjust="spacingAndGlyphs">10</text>
<rect x="392" y="27.60" width="18.3" height="7.10" fill="#ff8c6c"/>
<rect x="394.40" y="29.60" width="13.5" height="3.10" rx="0.8" fill="#000000"/>
<line x1="397.10" y1="29.90" x2="400.10" y2="32.40" stroke="#5070d0" stroke-width="1.1"/>
<line x1="401.40" y1="29.90" x2="404.40" y2="32.40" stroke="#5070d0" stroke-width="1.1"/>
<line x1="405.70" y1="29.90" x2="408.70" y2="32.40" stroke="#5070d0" stroke-width="1.1"/>
<text x="420.22" y="35.40" font-size="12.4" fill="#000" textLength="15.82" lengthAdjust="spacingAndGlyphs">15</text>
<rect x="392" y="40.90" width="18.3" height="7.70" fill="#000088"/>
<rect x="394.40" y="42.90" width="13.5" height="3.70" rx="0.8" fill="#000000"/>
<line x1="397.10" y1="43.20" x2="400.10" y2="46.30" stroke="#e0e0ff" stroke-width="1.1"/>
<line x1="401.40" y1="43.20" x2="404.40" y2="46.30" stroke="#e0e0ff" stroke-width="1.1"/>
<line x1="405.70" y1="43.20" x2="408.70" y2="46.30" stroke="#e0e0ff" stroke-width="1.1"/>
<text x="420.88" y="48.80" font-size="12.4" fill="#000" textLength="16.20" lengthAdjust="spacingAndGlyphs">16</text>
<rect x="463" y="1.20" width="18.3" height="7.60" fill="#4a0058"/>
<rect x="465.40" y="3.20" width="13.5" height="3.60" rx="0.8" fill="#000000"/>
<line x1="468.10" y1="3.50" x2="471.10" y2="6.50" stroke="#80d080" stroke-width="1.1"/>
<line x1="472.40" y1="3.50" x2="475.40" y2="6.50" stroke="#80d080" stroke-width="1.1"/>
<line x1="476.70" y1="3.50" x2="479.70" y2="6.50" stroke="#80d080" stroke-width="1.1"/>
<text x="491.03" y="9.40" font-size="12.4" fill="#000" textLength="15.64" lengthAdjust="spacingAndGlyphs">17</text>
<rect x="463" y="14.20" width="18.3" height="7.40" fill="#990000"/>
<rect x="465.40" y="16.20" width="13.5" height="3.40" rx="0.8" fill="#000000"/>
<line x1="468.10" y1="16.50" x2="471.10" y2="19.30" stroke="#40c0c0" stroke-width="1.1"/>
<line x1="472.40" y1="16.50" x2="475.40" y2="19.30" stroke="#40c0c0" stroke-width="1.1"/>
<line x1="476.70" y1="16.50" x2="479.70" y2="19.30" stroke="#40c0c0" stroke-width="1.1"/>
<text x="491.02" y="22.10" font-size="12.4" fill="#000" textLength="15.77" lengthAdjust="spacingAndGlyphs">18</text>
<rect x="463" y="27.00" width="18.3" height="6.90" fill="#006b3c"/>
<rect x="465.40" y="29.00" width="13.5" height="2.90" rx="0.8" fill="#000000"/>
<line x1="468.10" y1="29.30" x2="471.10" y2="31.60" stroke="#a06080" stroke-width="1.1"/>
<line x1="472.40" y1="29.30" x2="475.40" y2="31.60" stroke="#a06080" stroke-width="1.1"/>
<line x1="476.70" y1="29.30" x2="479.70" y2="31.60" stroke="#a06080" stroke-width="1.1"/>
<text x="491.02" y="34.90" font-size="12.4" fill="#000" textLength="15.82" lengthAdjust="spacingAndGlyphs">19</text>
<rect x="463" y="42.30" width="18.3" height="7.30" fill="#ffaa88"/>
<rect x="465.40" y="44.30" width="13.5" height="3.30" rx="0.8" fill="#000000"/>
<line x1="468.10" y1="44.60" x2="471.10" y2="47.30" stroke="#3070b0" stroke-width="1.1"/>
<line x1="472.40" y1="44.60" x2="475.40" y2="47.30" stroke="#3070b0" stroke-width="1.1"/>
<line x1="476.70" y1="44.60" x2="479.70" y2="47.30" stroke="#3070b0" stroke-width="1.1"/>
<text x="490.88" y="49.80" font-size="12.4" fill="#000" textLength="15.96" lengthAdjust="spacingAndGlyphs">23</text>
<line x1="86.90" y1="36.10" x2="177.50" y2="67.30" stroke="#000" stroke-width="2.1"/>
<line x1="84.10" y1="41.40" x2="89.90" y2="30.50" stroke="#000" stroke-width="2.1"/>
<line x1="174.90" y1="72.60" x2="180.10" y2="62.40" stroke="#000" stroke-width="2.1"/>
<polygon points="139.54,44.62 140.31,46.07 142.25,46.22 140.78,47.26 141.21,48.80 139.54,47.99 137.86,48.80 138.29,47.26 136.83,46.22 138.77,46.07" fill="#1a1a1a"/>
<polygon points="144.81,44.62 145.58,46.07 147.52,46.22 146.06,47.26 146.49,48.80 144.81,47.99 143.14,48.80 143.57,47.26 142.10,46.22 144.04,46.07" fill="#1a1a1a"/>
<polygon points="150.09,44.62 150.86,46.07 152.80,46.22 151.33,47.26 151.76,48.80 150.09,47.99 148.41,48.80 148.84,47.26 147.38,46.22 149.32,46.07" fill="#1a1a1a"/>
<polygon points="155.36,44.62 156.13,46.07 158.07,46.22 156.61,47.26 157.04,48.80 155.36,47.99 153.69,48.80 154.12,47.26 152.65,46.22 154.59,46.07" fill="#1a1a1a"/>
<line x1="212.30" y1="86.60" x2="299.90" y2="117.00" stroke="#000" stroke-width="2.1"/>
<line x1="209.10" y1="91.90" x2="215.40" y2="80.90" stroke="#000" stroke-width="2.1"/>
<line x1="297.20" y1="123.40" x2="303.00" y2="112.40" stroke="#000" stroke-width="2.1"/>
<polygon points="257.32,93.72 258.09,95.10 260.02,95.24 258.57,96.23 258.99,97.70 257.32,96.93 255.66,97.70 256.08,96.23 254.63,95.24 256.56,95.10" fill="#1a1a1a"/>
<polygon points="262.57,93.72 263.34,95.10 265.27,95.24 263.82,96.23 264.24,97.70 262.57,96.93 260.91,97.70 261.33,96.23 259.88,95.24 261.81,95.10" fill="#1a1a1a"/>
<polygon points="267.82,93.72 268.59,95.10 270.52,95.24 269.07,96.23 269.49,97.70 267.82,96.93 266.16,97.70 266.58,96.23 265.13,95.24 267.06,95.10" fill="#1a1a1a"/>
<polygon points="273.07,93.72 273.84,95.10 275.77,95.24 274.32,96.23 274.74,97.70 273.07,96.93 271.41,97.70 271.83,96.23 270.38,95.24 272.31,95.10" fill="#1a1a1a"/>
<line x1="337.50" y1="133.10" x2="425.70" y2="165.20" stroke="#000" stroke-width="2.1"/>
<line x1="334.00" y1="138.90" x2="340.50" y2="127.20" stroke="#000" stroke-width="2.1"/>
<line x1="422.80" y1="171.60" x2="429.20" y2="160.20" stroke="#000" stroke-width="2.1"/>
<polygon points="388.32,135.02 389.09,136.47 391.02,136.62 389.57,137.66 389.99,139.20 388.32,138.39 386.66,139.20 387.08,137.66 385.63,136.62 387.56,136.47" fill="#1a1a1a"/>
<polygon points="393.57,135.02 394.34,136.47 396.27,136.62 394.82,137.66 395.24,139.20 393.57,138.39 391.91,139.20 392.33,137.66 390.88,136.62 392.81,136.47" fill="#1a1a1a"/>
<polygon points="398.82,135.02 399.59,136.47 401.52,136.62 400.07,137.66 400.49,139.20 398.82,138.39 397.16,139.20 397.58,137.66 396.13,136.62 398.06,136.47" fill="#1a1a1a"/>
<polygon points="404.07,135.02 404.84,136.47 406.77,136.62 405.32,137.66 405.74,139.20 404.07,138.39 402.41,139.20 402.83,137.66 401.38,136.62 403.31,136.47" fill="#1a1a1a"/>
<line x1="462.40" y1="175.40" x2="550.40" y2="205.70" stroke="#000" stroke-width="2.1"/>
<line x1="459.30" y1="180.70" x2="465.40" y2="169.30" stroke="#000" stroke-width="2.1"/>
<line x1="547.70" y1="211.70" x2="554.20" y2="200.50" stroke="#000" stroke-width="2.1"/>
<polygon points="512.64,184.32 513.41,185.70 515.35,185.84 513.88,186.83 514.31,188.30 512.64,187.53 510.96,188.30 511.39,186.83 509.93,185.84 511.87,185.70" fill="#1a1a1a"/>
<polygon points="517.91,184.32 518.68,185.70 520.62,185.84 519.16,186.83 519.59,188.30 517.91,187.53 516.24,188.30 516.67,186.83 515.20,185.84 517.14,185.70" fill="#1a1a1a"/>
<polygon points="523.19,184.32 523.96,185.70 525.90,185.84 524.43,186.83 524.86,188.30 523.19,187.53 521.51,188.30 521.94,186.83 520.48,185.84 522.42,185.70" fill="#1a1a1a"/>
<polygon points="528.46,184.32 529.23,185.70 531.17,185.84 529.71,186.83 530.14,188.30 528.46,187.53 526.79,188.30 527.22,186.83 525.75,185.84 527.69,185.70" fill="#1a1a1a"/>
<line x1="587.80" y1="217.30" x2="676.20" y2="256.50" stroke="#000" stroke-width="2.1"/>
<line x1="583.80" y1="222.50" x2="590.60" y2="212.00" stroke="#000" stroke-width="2.1"/>
<line x1="672.60" y1="262.60" x2="679.70" y2="251.70" stroke="#000" stroke-width="2.1"/>
<polygon points="638.61,232.12 639.38,233.61 641.30,233.76 639.85,234.82 640.27,236.40 638.61,235.57 636.95,236.40 637.38,234.82 635.93,233.76 637.85,233.61" fill="#1a1a1a"/>
<polygon points="643.84,232.12 644.60,233.61 646.52,233.76 645.07,234.82 645.50,236.40 643.84,235.57 642.18,236.40 642.60,234.82 641.15,233.76 643.07,233.61" fill="#1a1a1a"/>
<polygon points="649.06,232.12 649.83,233.61 651.75,233.76 650.30,234.82 650.72,236.40 649.06,235.57 647.40,236.40 647.83,234.82 646.38,233.76 648.30,233.61" fill="#1a1a1a"/>
<polygon points="654.29,232.12 655.05,233.61 656.97,233.76 655.52,234.82 655.95,236.40 654.29,235.57 652.63,236.40 653.05,234.82 651.60,233.76 653.52,233.61" fill="#1a1a1a"/>
<path d="M68.97,75.80L68.30,81.40M70.62,75.80L69.95,81.40M74.12,75.80L73.45,81.40M75.77,75.80L75.10,81.40M79.27,75.80L78.60,81.40M80.92,75.80L80.25,81.40M84.42,75.80L83.75,81.40M86.07,75.80L85.40,81.40" stroke="#666" stroke-width="0.68" fill="none"/><path d="M67.52,77.93L71.44,77.93M67.31,79.61L71.23,79.61M72.67,77.93L76.59,77.93M72.47,79.61L76.38,79.61M77.82,77.93L81.73,77.93M77.61,79.61L81.53,79.61M82.97,77.93L86.89,77.93M82.77,79.61L86.68,79.61" stroke="#666" stroke-width="0.85" fill="none"/>
<path d="M193.98,66.40L193.31,72.00M195.63,66.40L194.96,72.00M199.15,66.40L198.48,72.00M200.81,66.40L200.14,72.00M204.33,66.40L203.66,72.00M205.98,66.40L205.31,72.00M209.50,66.40L208.83,72.00M211.16,66.40L210.49,72.00" stroke="#666" stroke-width="0.68" fill="none"/><path d="M192.52,68.53L196.46,68.53M192.32,70.21L196.25,70.21M197.70,68.53L201.63,68.53M197.49,70.21L201.43,70.21M202.87,68.53L206.81,68.53M202.67,70.21L206.60,70.21M208.05,68.53L211.98,68.53M207.84,70.21L211.78,70.21" stroke="#666" stroke-width="0.85" fill="none"/>
<path d="M319.17,58.70L318.50,64.30M320.82,58.70L320.15,64.30M324.32,58.70L323.65,64.30M325.97,58.70L325.30,64.30M329.47,58.70L328.80,64.30M331.12,58.70L330.45,64.30M334.62,58.70L333.95,64.30M336.27,58.70L335.60,64.30" stroke="#666" stroke-width="0.68" fill="none"/><path d="M317.72,60.83L321.63,60.83M317.51,62.51L321.43,62.51M322.87,60.83L326.78,60.83M322.66,62.51L326.58,62.51M328.02,60.83L331.94,60.83M327.81,62.51L331.73,62.51M333.17,60.83L337.09,60.83M332.97,62.51L336.88,62.51" stroke="#666" stroke-width="0.85" fill="none"/>
<path d="M444.06,58.00L443.39,63.60M445.70,58.00L445.03,63.60M449.19,58.00L448.51,63.60M450.83,58.00L450.15,63.60M454.31,58.00L453.64,63.60M455.95,58.00L455.28,63.60M459.44,58.00L458.76,63.60M461.08,58.00L460.40,63.60" stroke="#666" stroke-width="0.68" fill="none"/><path d="M442.62,60.13L446.51,60.13M442.41,61.81L446.31,61.81M447.74,60.13L451.64,60.13M447.54,61.81L451.43,61.81M452.87,60.13L456.76,60.13M452.66,61.81L456.56,61.81M457.99,60.13L461.89,60.13M457.79,61.81L461.68,61.81" stroke="#666" stroke-width="0.85" fill="none"/>
<path d="M570.02,51.00L569.34,56.60M571.62,51.00L570.94,56.60M575.02,51.00L574.34,56.60M576.62,51.00L575.94,56.60M580.02,51.00L579.34,56.60M581.62,51.00L580.94,56.60M585.02,51.00L584.34,56.60M586.62,51.00L585.94,56.60" stroke="#666" stroke-width="0.68" fill="none"/><path d="M568.60,53.13L572.40,53.13M568.40,54.81L572.20,54.81M573.60,53.13L577.40,53.13M573.40,54.81L577.20,54.81M578.60,53.13L582.40,53.13M578.40,54.81L582.20,54.81M583.60,53.13L587.40,53.13M583.40,54.81L587.20,54.81" stroke="#666" stroke-width="0.85" fill="none"/>
<rect x="171.75" y="470.20" width="1.6" height="4.00" fill="#000"/>
<rect x="167.15" y="470.20" width="10.8" height="1.3" fill="#000"/>
<rect x="162.50" y="475.30" width="20.10" height="122.30" fill="url(#pb0)" stroke="#000" stroke-width="2.2"/>
<rect x="171.55" y="598" width="2" height="5.6" fill="#000"/>
<rect x="205.82" y="531.50" width="1.6" height="3.60" fill="#000"/>
<rect x="201.22" y="531.50" width="10.8" height="1.3" fill="#000"/>
<rect x="196.57" y="536.20" width="20.10" height="61.40" fill="url(#pb1)" stroke="#000" stroke-width="2.2"/>
<path d="M199.62,526.40L199.14,530.40M201.22,526.40L200.74,530.40M204.62,526.40L204.14,530.40M206.22,526.40L205.74,530.40M209.62,526.40L209.14,530.40M211.22,526.40L210.74,530.40M214.62,526.40L214.14,530.40M216.22,526.40L215.74,530.40" stroke="#333" stroke-width="0.72" fill="none"/><path d="M198.30,527.92L202.10,527.92M198.10,529.12L201.90,529.12M203.30,527.92L207.10,527.92M203.10,529.12L206.90,529.12M208.30,527.92L212.10,527.92M208.10,529.12L211.90,529.12M213.30,527.92L217.10,527.92M213.10,529.12L216.90,529.12" stroke="#333" stroke-width="0.90" fill="none"/>
<rect x="205.62" y="598" width="2" height="5.6" fill="#000"/>
<rect x="239.89" y="466.50" width="1.6" height="2.20" fill="#000"/>
<rect x="235.29" y="466.50" width="10.8" height="1.3" fill="#000"/>
<rect x="230.64" y="469.80" width="20.10" height="127.80" fill="url(#pb2)" stroke="#000" stroke-width="2.2"/>
<polygon points="232.74,460.12 233.51,461.33 235.46,461.45 233.99,462.32 234.42,463.60 232.74,462.93 231.06,463.60 231.49,462.32 230.02,461.45 231.97,461.33" fill="#1a1a1a"/>
<polygon points="238.04,460.12 238.81,461.33 240.76,461.45 239.29,462.32 239.72,463.60 238.04,462.93 236.36,463.60 236.79,462.32 235.32,461.45 237.27,461.33" fill="#1a1a1a"/>
<polygon points="243.34,460.12 244.11,461.33 246.06,461.45 244.59,462.32 245.02,463.60 243.34,462.93 241.66,463.60 242.09,462.32 240.62,461.45 242.57,461.33" fill="#1a1a1a"/>
<polygon points="248.64,460.12 249.41,461.33 251.36,461.45 249.89,462.32 250.32,463.60 248.64,462.93 246.96,463.60 247.39,462.32 245.92,461.45 247.87,461.33" fill="#1a1a1a"/>
<rect x="239.69" y="598" width="2" height="5.6" fill="#000"/>
<rect x="273.96" y="451.20" width="1.6" height="3.00" fill="#000"/>
<rect x="269.36" y="451.20" width="10.8" height="1.3" fill="#000"/>
<rect x="264.71" y="455.30" width="20.10" height="142.30" fill="url(#pb3)" stroke="#000" stroke-width="2.2"/>
<polygon points="266.81,444.82 267.58,446.03 269.53,446.15 268.06,447.02 268.49,448.30 266.81,447.63 265.13,448.30 265.56,447.02 264.09,446.15 266.04,446.03" fill="#1a1a1a"/>
<polygon points="272.11,444.82 272.88,446.03 274.83,446.15 273.36,447.02 273.79,448.30 272.11,447.63 270.43,448.30 270.86,447.02 269.39,446.15 271.34,446.03" fill="#1a1a1a"/>
<polygon points="277.41,444.82 278.18,446.03 280.13,446.15 278.66,447.02 279.09,448.30 277.41,447.63 275.73,448.30 276.16,447.02 274.69,446.15 276.64,446.03" fill="#1a1a1a"/>
<polygon points="282.71,444.82 283.48,446.03 285.43,446.15 283.96,447.02 284.39,448.30 282.71,447.63 281.03,448.30 281.46,447.02 279.99,446.15 281.94,446.03" fill="#1a1a1a"/>
<rect x="273.76" y="598" width="2" height="5.6" fill="#000"/>
<rect x="308.03" y="429.30" width="1.6" height="3.00" fill="#000"/>
<rect x="303.43" y="429.30" width="10.8" height="1.3" fill="#000"/>
<rect x="298.78" y="433.40" width="20.10" height="164.20" fill="url(#pb4)" stroke="#000" stroke-width="2.2"/>
<polygon points="300.88,422.92 301.65,424.13 303.60,424.25 302.13,425.12 302.56,426.40 300.88,425.73 299.20,426.40 299.63,425.12 298.16,424.25 300.11,424.13" fill="#1a1a1a"/>
<polygon points="306.18,422.92 306.95,424.13 308.90,424.25 307.43,425.12 307.86,426.40 306.18,425.73 304.50,426.40 304.93,425.12 303.46,424.25 305.41,424.13" fill="#1a1a1a"/>
<polygon points="311.48,422.92 312.25,424.13 314.20,424.25 312.73,425.12 313.16,426.40 311.48,425.73 309.80,426.40 310.23,425.12 308.76,424.25 310.71,424.13" fill="#1a1a1a"/>
<polygon points="316.78,422.92 317.55,424.13 319.50,424.25 318.03,425.12 318.46,426.40 316.78,425.73 315.10,426.40 315.53,425.12 314.06,424.25 316.01,424.13" fill="#1a1a1a"/>
<rect x="307.83" y="598" width="2" height="5.6" fill="#000"/>
<rect x="342.10" y="436.30" width="1.6" height="3.30" fill="#000"/>
<rect x="337.50" y="436.30" width="10.8" height="1.3" fill="#000"/>
<rect x="332.85" y="440.70" width="20.10" height="156.90" fill="url(#pb5)" stroke="#000" stroke-width="2.2"/>
<polygon points="334.95,429.92 335.72,431.13 337.67,431.25 336.20,432.12 336.63,433.40 334.95,432.73 333.27,433.40 333.70,432.12 332.23,431.25 334.18,431.13" fill="#1a1a1a"/>
<polygon points="340.25,429.92 341.02,431.13 342.97,431.25 341.50,432.12 341.93,433.40 340.25,432.73 338.57,433.40 339.00,432.12 337.53,431.25 339.48,431.13" fill="#1a1a1a"/>
<polygon points="345.55,429.92 346.32,431.13 348.27,431.25 346.80,432.12 347.23,433.40 345.55,432.73 343.87,433.40 344.30,432.12 342.83,431.25 344.78,431.13" fill="#1a1a1a"/>
<polygon points="350.85,429.92 351.62,431.13 353.57,431.25 352.10,432.12 352.53,433.40 350.85,432.73 349.17,433.40 349.60,432.12 348.13,431.25 350.08,431.13" fill="#1a1a1a"/>
<rect x="341.90" y="598" width="2" height="5.6" fill="#000"/>
<rect x="376.17" y="435.20" width="1.6" height="3.30" fill="#000"/>
<rect x="371.57" y="435.20" width="10.8" height="1.3" fill="#000"/>
<rect x="366.92" y="439.60" width="20.10" height="158.00" fill="url(#pb6)" stroke="#000" stroke-width="2.2"/>
<polygon points="369.02,428.82 369.79,430.03 371.74,430.15 370.27,431.02 370.70,432.30 369.02,431.63 367.34,432.30 367.77,431.02 366.30,430.15 368.25,430.03" fill="#1a1a1a"/>
<polygon points="374.32,428.82 375.09,430.03 377.04,430.15 375.57,431.02 376.00,432.30 374.32,431.63 372.64,432.30 373.07,431.02 371.60,430.15 373.55,430.03" fill="#1a1a1a"/>
<polygon points="379.62,428.82 380.39,430.03 382.34,430.15 380.87,431.02 381.30,432.30 379.62,431.63 377.94,432.30 378.37,431.02 376.90,430.15 378.85,430.03" fill="#1a1a1a"/>
<polygon points="384.92,428.82 385.69,430.03 387.64,430.15 386.17,431.02 386.60,432.30 384.92,431.63 383.24,432.30 383.67,431.02 382.20,430.15 384.15,430.03" fill="#1a1a1a"/>
<rect x="375.97" y="598" width="2" height="5.6" fill="#000"/>
<rect x="410.24" y="450.10" width="1.6" height="3.30" fill="#000"/>
<rect x="405.64" y="450.10" width="10.8" height="1.3" fill="#000"/>
<rect x="400.99" y="454.50" width="20.10" height="143.10" fill="url(#pb7)" stroke="#000" stroke-width="2.2"/>
<polygon points="403.09,443.72 403.86,444.93 405.81,445.05 404.34,445.92 404.77,447.20 403.09,446.53 401.41,447.20 401.84,445.92 400.37,445.05 402.32,444.93" fill="#1a1a1a"/>
<polygon points="408.39,443.72 409.16,444.93 411.11,445.05 409.64,445.92 410.07,447.20 408.39,446.53 406.71,447.20 407.14,445.92 405.67,445.05 407.62,444.93" fill="#1a1a1a"/>
<polygon points="413.69,443.72 414.46,444.93 416.41,445.05 414.94,445.92 415.37,447.20 413.69,446.53 412.01,447.20 412.44,445.92 410.97,445.05 412.92,444.93" fill="#1a1a1a"/>
<polygon points="418.99,443.72 419.76,444.93 421.71,445.05 420.24,445.92 420.67,447.20 418.99,446.53 417.31,447.20 417.74,445.92 416.27,445.05 418.22,444.93" fill="#1a1a1a"/>
<rect x="410.04" y="598" width="2" height="5.6" fill="#000"/>
<rect x="444.31" y="443.30" width="1.6" height="2.80" fill="#000"/>
<rect x="439.71" y="443.30" width="10.8" height="1.3" fill="#000"/>
<rect x="435.06" y="447.20" width="20.10" height="150.40" fill="url(#pb8)" stroke="#000" stroke-width="2.2"/>
<polygon points="437.16,436.92 437.93,438.13 439.88,438.25 438.41,439.12 438.84,440.40 437.16,439.73 435.48,440.40 435.91,439.12 434.44,438.25 436.39,438.13" fill="#1a1a1a"/>
<polygon points="442.46,436.92 443.23,438.13 445.18,438.25 443.71,439.12 444.14,440.40 442.46,439.73 440.78,440.40 441.21,439.12 439.74,438.25 441.69,438.13" fill="#1a1a1a"/>
<polygon points="447.76,436.92 448.53,438.13 450.48,438.25 449.01,439.12 449.44,440.40 447.76,439.73 446.08,440.40 446.51,439.12 445.04,438.25 446.99,438.13" fill="#1a1a1a"/>
<polygon points="453.06,436.92 453.83,438.13 455.78,438.25 454.31,439.12 454.74,440.40 453.06,439.73 451.38,440.40 451.81,439.12 450.34,438.25 452.29,438.13" fill="#1a1a1a"/>
<rect x="444.11" y="598" width="2" height="5.6" fill="#000"/>
<rect x="478.38" y="435.80" width="1.6" height="2.20" fill="#000"/>
<rect x="473.78" y="435.80" width="10.8" height="1.3" fill="#000"/>
<rect x="469.13" y="439.10" width="20.10" height="158.50" fill="url(#pb9)" stroke="#000" stroke-width="2.2"/>
<polygon points="471.23,429.42 472.00,430.63 473.95,430.75 472.48,431.62 472.91,432.90 471.23,432.23 469.55,432.90 469.98,431.62 468.51,430.75 470.46,430.63" fill="#1a1a1a"/>
<polygon points="476.53,429.42 477.30,430.63 479.25,430.75 477.78,431.62 478.21,432.90 476.53,432.23 474.85,432.90 475.28,431.62 473.81,430.75 475.76,430.63" fill="#1a1a1a"/>
<polygon points="481.83,429.42 482.60,430.63 484.55,430.75 483.08,431.62 483.51,432.90 481.83,432.23 480.15,432.90 480.58,431.62 479.11,430.75 481.06,430.63" fill="#1a1a1a"/>
<polygon points="487.13,429.42 487.90,430.63 489.85,430.75 488.38,431.62 488.81,432.90 487.13,432.23 485.45,432.90 485.88,431.62 484.41,430.75 486.36,430.63" fill="#1a1a1a"/>
<rect x="478.18" y="598" width="2" height="5.6" fill="#000"/>
<rect x="512.45" y="436.90" width="1.6" height="2.70" fill="#000"/>
<rect x="507.85" y="436.90" width="10.8" height="1.3" fill="#000"/>
<rect x="503.20" y="440.70" width="20.10" height="156.90" fill="url(#pb10)" stroke="#000" stroke-width="2.2"/>
<polygon points="505.30,430.52 506.07,431.73 508.02,431.85 506.55,432.72 506.98,434.00 505.30,433.33 503.62,434.00 504.05,432.72 502.58,431.85 504.53,431.73" fill="#1a1a1a"/>
<polygon points="510.60,430.52 511.37,431.73 513.32,431.85 511.85,432.72 512.28,434.00 510.60,433.33 508.92,434.00 509.35,432.72 507.88,431.85 509.83,431.73" fill="#1a1a1a"/>
<polygon points="515.90,430.52 516.67,431.73 518.62,431.85 517.15,432.72 517.58,434.00 515.90,433.33 514.22,434.00 514.65,432.72 513.18,431.85 515.13,431.73" fill="#1a1a1a"/>
<polygon points="521.20,430.52 521.97,431.73 523.92,431.85 522.45,432.72 522.88,434.00 521.20,433.33 519.52,434.00 519.95,432.72 518.48,431.85 520.43,431.73" fill="#1a1a1a"/>
<rect x="512.25" y="598" width="2" height="5.6" fill="#000"/>
<rect x="546.52" y="443.30" width="1.6" height="2.20" fill="#000"/>
<rect x="541.92" y="443.30" width="10.8" height="1.3" fill="#000"/>
<rect x="537.27" y="446.60" width="20.10" height="151.00" fill="url(#pb11)" stroke="#000" stroke-width="2.2"/>
<polygon points="539.37,436.92 540.14,438.13 542.09,438.25 540.62,439.12 541.05,440.40 539.37,439.73 537.69,440.40 538.12,439.12 536.65,438.25 538.60,438.13" fill="#1a1a1a"/>
<polygon points="544.67,436.92 545.44,438.13 547.39,438.25 545.92,439.12 546.35,440.40 544.67,439.73 542.99,440.40 543.42,439.12 541.95,438.25 543.90,438.13" fill="#1a1a1a"/>
<polygon points="549.97,436.92 550.74,438.13 552.69,438.25 551.22,439.12 551.65,440.40 549.97,439.73 548.29,440.40 548.72,439.12 547.25,438.25 549.20,438.13" fill="#1a1a1a"/>
<polygon points="555.27,436.92 556.04,438.13 557.99,438.25 556.52,439.12 556.95,440.40 555.27,439.73 553.59,440.40 554.02,439.12 552.55,438.25 554.50,438.13" fill="#1a1a1a"/>
<rect x="546.32" y="598" width="2" height="5.6" fill="#000"/>
<rect x="148.8" y="426" width="1.9" height="173" fill="#000"/>
<rect x="142.4" y="597.5" width="428.3" height="1.5" fill="#000"/>
<rect x="142.1" y="597.30" width="8" height="1.8" fill="#000"/>
<rect x="145.1" y="594.18" width="4" height="1.2" fill="#000"/>
<rect x="145.1" y="590.75" width="4" height="1.2" fill="#000"/>
<rect x="145.1" y="587.33" width="4" height="1.2" fill="#000"/>
<rect x="145.1" y="583.90" width="4" height="1.2" fill="#000"/>
<rect x="145.1" y="580.48" width="4" height="1.2" fill="#000"/>
<rect x="145.1" y="577.06" width="4" height="1.2" fill="#000"/>
<rect x="145.1" y="573.63" width="4" height="1.2" fill="#000"/>
<rect x="145.1" y="570.21" width="4" height="1.2" fill="#000"/>
<rect x="145.1" y="566.78" width="4" height="1.2" fill="#000"/>
<rect x="142.1" y="563.06" width="8" height="1.8" fill="#000"/>
<rect x="145.1" y="559.94" width="4" height="1.2" fill="#000"/>
<rect x="145.1" y="556.51" width="4" height="1.2" fill="#000"/>
<rect x="145.1" y="553.09" width="4" height="1.2" fill="#000"/>
<rect x="145.1" y="549.66" width="4" height="1.2" fill="#000"/>
<rect x="145.1" y="546.24" width="4" height="1.2" fill="#000"/>
<rect x="145.1" y="542.82" width="4" height="1.2" fill="#000"/>
<rect x="145.1" y="539.39" width="4" height="1.2" fill="#000"/>
<rect x="145.1" y="535.97" width="4" height="1.2" fill="#000"/>
<rect x="145.1" y="532.54" width="4" height="1.2" fill="#000"/>
<rect x="142.1" y="528.82" width="8" height="1.8" fill="#000"/>
<rect x="145.1" y="525.70" width="4" height="1.2" fill="#000"/>
<rect x="145.1" y="522.27" width="4" height="1.2" fill="#000"/>
<rect x="145.1" y="518.85" width="4" height="1.2" fill="#000"/>
<rect x="145.1" y="515.42" width="4" height="1.2" fill="#000"/>
<rect x="145.1" y="512.00" width="4" height="1.2" fill="#000"/>
<rect x="145.1" y="508.58" width="4" height="1.2" fill="#000"/>
<rect x="145.1" y="505.15" width="4" height="1.2" fill="#000"/>
<rect x="145.1" y="501.73" width="4" height="1.2" fill="#000"/>
<rect x="145.1" y="498.30" width="4" height="1.2" fill="#000"/>
<rect x="142.1" y="494.58" width="8" height="1.8" fill="#000"/>
<rect x="145.1" y="491.46" width="4" height="1.2" fill="#000"/>
<rect x="145.1" y="488.03" width="4" height="1.2" fill="#000"/>
<rect x="145.1" y="484.61" width="4" height="1.2" fill="#000"/>
<rect x="145.1" y="481.18" width="4" height="1.2" fill="#000"/>
<rect x="145.1" y="477.76" width="4" height="1.2" fill="#000"/>
<rect x="145.1" y="474.34" width="4" height="1.2" fill="#000"/>
<rect x="145.1" y="470.91" width="4" height="1.2" fill="#000"/>
<rect x="145.1" y="467.49" width="4" height="1.2" fill="#000"/>
<rect x="145.1" y="464.06" width="4" height="1.2" fill="#000"/>
<rect x="142.1" y="460.34" width="8" height="1.8" fill="#000"/>
<rect x="145.1" y="457.22" width="4" height="1.2" fill="#000"/>
<rect x="145.1" y="453.79" width="4" height="1.2" fill="#000"/>
<rect x="145.1" y="450.37" width="4" height="1.2" fill="#000"/>
<rect x="145.1" y="446.94" width="4" height="1.2" fill="#000"/>
<rect x="145.1" y="443.52" width="4" height="1.2" fill="#000"/>
<rect x="145.1" y="440.10" width="4" height="1.2" fill="#000"/>
<rect x="145.1" y="436.67" width="4" height="1.2" fill="#000"/>
<rect x="145.1" y="433.25" width="4" height="1.2" fill="#000"/>
<rect x="145.1" y="429.82" width="4" height="1.2" fill="#000"/>
<rect x="142.1" y="426.10" width="8" height="1.8" fill="#000"/>
<text x="134.03" y="601.30" font-size="8.6" font-weight="bold" fill="#000" textLength="6.45" lengthAdjust="spacingAndGlyphs">0</text>
<text x="127.58" y="567.06" font-size="8.6" font-weight="bold" fill="#000" textLength="12.90" lengthAdjust="spacingAndGlyphs">10</text>
<text x="127.58" y="532.82" font-size="8.6" font-weight="bold" fill="#000" textLength="12.90" lengthAdjust="spacingAndGlyphs">20</text>
<text x="127.58" y="498.58" font-size="8.6" font-weight="bold" fill="#000" textLength="12.90" lengthAdjust="spacingAndGlyphs">30</text>
<text x="127.58" y="464.34" font-size="8.6" font-weight="bold" fill="#000" textLength="12.90" lengthAdjust="spacingAndGlyphs">40</text>
<text x="127.58" y="430.10" font-size="8.6" font-weight="bold" fill="#000" textLength="12.90" lengthAdjust="spacingAndGlyphs">50</text>
<text transform="translate(175.95,612.00) scale(1.5,1) rotate(-45)" font-size="9.6" font-weight="bold" text-anchor="end">Control</text>
<text transform="translate(210.02,612.00) scale(1.5,1) rotate(-45)" font-size="9.6" font-weight="bold" text-anchor="end">Scopolamine</text>
<text transform="translate(244.09,612.00) scale(1.5,1) rotate(-45)" font-size="9.6" font-weight="bold" text-anchor="end">Donepezil</text>
<text transform="translate(278.16,612.00) scale(1.5,1) rotate(-45)" font-size="9.6" font-weight="bold" text-anchor="end">8</text>
<text transform="translate(312.23,612.00) scale(1.5,1) rotate(-45)" font-size="9.6" font-weight="bold" text-anchor="end">9</text>
<text transform="translate(344.80,613.50) scale(1.5,1) rotate(-45)" font-size="9.6" font-weight="bold" text-anchor="end">10</text>
<text transform="translate(380.37,612.00) scale(1.5,1) rotate(-45)" font-size="9.6" font-weight="bold" text-anchor="end">15</text>
<text transform="translate(414.44,612.00) scale(1.5,1) rotate(-45)" font-size="9.6" font-weight="bold" text-anchor="end">16</text>
<text transform="translate(448.51,612.00) scale(1.5,1) rotate(-45)" font-size="9.6" font-weight="bold" text-anchor="end">17</text>
<text transform="translate(482.58,612.00) scale(1.5,1) rotate(-45)" font-size="9.6" font-weight="bold" text-anchor="end">18</text>
<text transform="translate(516.65,612.00) scale(1.5,1) rotate(-45)" font-size="9.6" font-weight="bold" text-anchor="end">19</text>
<text transform="translate(550.72,612.00) scale(1.5,1) rotate(-45)" font-size="9.6" font-weight="bold" text-anchor="end">23</text>
<text x="336.06" y="662.50" font-size="9.3" font-weight="bold" fill="#000" textLength="47.72" lengthAdjust="spacingAndGlyphs">Groups</text>
<text transform="translate(119.00,524.05) scale(1.4,1) rotate(-90)" x="0" y="0" font-size="10" font-weight="bold" fill="#000" textLength="22.22" lengthAdjust="spacingAndGlyphs">Time</text>
<text x="0.33" y="381.10" font-size="15.2" font-weight="bold" fill="#000" textLength="19.65" lengthAdjust="spacingAndGlyphs">(b)</text>
<rect x="331.75" y="376.25" width="16.70" height="4.10" fill="url(#pb0)" stroke="#000" stroke-width="1.5"/>
<text x="359.41" y="381.50" font-size="9.0" fill="#222" textLength="45.20" lengthAdjust="spacingAndGlyphs">Control</text>
<rect x="331.75" y="384.45" width="16.70" height="4.30" fill="url(#pb1)" stroke="#000" stroke-width="1.5"/>
<text x="359.52" y="389.60" font-size="9.0" fill="#222" textLength="76.18" lengthAdjust="spacingAndGlyphs">Scopolamine</text>
<rect x="331.75" y="393.45" width="16.70" height="4.10" fill="url(#pb2)" stroke="#000" stroke-width="1.5"/>
<text x="359.57" y="398.40" font-size="9.0" fill="#222" textLength="59.42" lengthAdjust="spacingAndGlyphs">Donepezil</text>
<rect x="331.75" y="401.55" width="16.70" height="4.30" fill="url(#pb3)" stroke="#000" stroke-width="1.5"/>
<text x="359.78" y="406.70" font-size="9.0" fill="#222" textLength="6.94" lengthAdjust="spacingAndGlyphs">8</text>
<rect x="445.95" y="374.55" width="16.70" height="4.30" fill="url(#pb4)" stroke="#000" stroke-width="1.5"/>
<text x="473.47" y="379.60" font-size="9.0" fill="#222" textLength="6.55" lengthAdjust="spacingAndGlyphs">9</text>
<rect x="445.95" y="383.25" width="16.70" height="3.80" fill="url(#pb5)" stroke="#000" stroke-width="1.5"/>
<text x="472.50" y="388.20" font-size="9.0" fill="#222" textLength="16.00" lengthAdjust="spacingAndGlyphs">10</text>
<rect x="445.95" y="392.05" width="16.70" height="3.70" fill="url(#pb6)" stroke="#000" stroke-width="1.5"/>
<text x="472.50" y="396.90" font-size="9.0" fill="#222" textLength="16.05" lengthAdjust="spacingAndGlyphs">15</text>
<rect x="445.95" y="400.55" width="16.70" height="4.00" fill="url(#pb7)" stroke="#000" stroke-width="1.5"/>
<text x="472.51" y="405.50" font-size="9.0" fill="#222" textLength="15.86" lengthAdjust="spacingAndGlyphs">16</text>
<rect x="505.95" y="374.95" width="16.70" height="4.20" fill="url(#pb8)" stroke="#000" stroke-width="1.5"/>
<text x="533.04" y="380.50" font-size="9.0" fill="#222" textLength="15.52" lengthAdjust="spacingAndGlyphs">17</text>
<rect x="505.95" y="383.15" width="16.70" height="3.90" fill="url(#pb9)" stroke="#000" stroke-width="1.5"/>
<text x="533.03" y="388.40" font-size="9.0" fill="#222" textLength="15.66" lengthAdjust="spacingAndGlyphs">18</text>
<rect x="505.95" y="391.85" width="16.70" height="4.00" fill="url(#pb10)" stroke="#000" stroke-width="1.5"/>
<text x="533.03" y="397.00" font-size="9.0" fill="#222" textLength="15.70" lengthAdjust="spacingAndGlyphs">19</text>
<rect x="505.95" y="399.95" width="16.70" height="4.10" fill="url(#pb11)" stroke="#000" stroke-width="1.5"/>
<text x="533.73" y="405.30" font-size="9.0" fill="#222" textLength="14.97" lengthAdjust="spacingAndGlyphs">23</text>
</svg>
</body></html>
